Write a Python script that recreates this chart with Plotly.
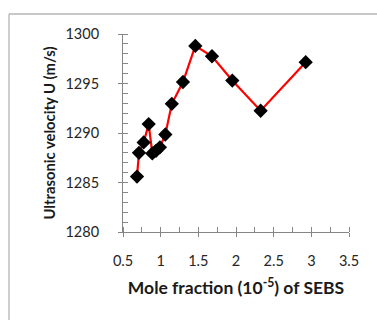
import plotly.graph_objects as go

# Ultrasonic velocity of SEBS solutions vs. mole fraction
mole_fraction = [0.686, 0.712, 0.774, 0.841, 0.889, 0.938, 0.99, 1.062,
                 1.148, 1.296, 1.46, 1.681, 1.951, 2.327, 2.925]
velocity = [1285.6, 1288.0, 1289.05, 1290.9, 1287.94, 1288.2, 1288.55,
            1289.85, 1292.95, 1295.15, 1298.8, 1297.75, 1295.3, 1292.25, 1297.15]

x_range = [0.5, 3.5]
y_range = [1280, 1300]

axis_grey = "#868686"
font_family = "Lato, 'Open Sans', sans-serif"

fig = go.Figure()
fig.add_trace(go.Scatter(
    x=mole_fraction, y=velocity, mode="lines+markers",
    line=dict(color="#ff0000", width=2.2),
    marker=dict(symbol="diamond", size=11, color="#000000"),
    showlegend=False, hoverinfo="x+y",
))
# invisible trace carrying the inner half of the crossing ticks
fig.add_trace(go.Scatter(x=x_range, y=y_range, xaxis="x2", yaxis="y2",
                         mode="markers", marker=dict(opacity=0),
                         showlegend=False, hoverinfo="skip"))

common = dict(showline=True, linecolor=axis_grey, linewidth=1,
              showgrid=False, zeroline=False, ticks="outside",
              tickcolor=axis_grey, ticklen=4, tickwidth=1,
              tickfont=dict(family=font_family, size=14.5, color="#262626"))

# outer chart frame (left and top edges, in pixels from the plot area)
plot_w, plot_h = 226, 198
frame_x = -114 / plot_w
frame_top = 1 + (34 - 14) / plot_h

fig.update_layout(
    width=377, height=320,
    margin=dict(l=123, r=28, t=34, b=88),
    paper_bgcolor="white", plot_bgcolor="white",
    font=dict(family=font_family),
    xaxis=dict(range=x_range, dtick=0.5, tick0=0.5,
               ticklabelstandoff=12,
               minor=dict(dtick=0.25, ticks="inside", ticklen=5, tickcolor=axis_grey),
               title=dict(text="<b>Mole fraction (10<sup>-5</sup>) of SEBS</b>",
                          font=dict(family=font_family, size=17.5, color="#1a1a1a"),
                          standoff=13),
               **common),
    yaxis=dict(range=y_range, dtick=5, tick0=1280,
               ticklabelstandoff=16,
               minor=dict(dtick=1, ticks="inside", ticklen=5, tickcolor=axis_grey),
               title=dict(text="<b>Ultrasonic velocity U (m/s)</b>",
                          font=dict(family=font_family, size=14.8, color="#1a1a1a"),
                          standoff=6),
               **common),
    xaxis2=dict(range=x_range, dtick=0.5, tick0=0.5, overlaying="x",
                showticklabels=False, ticks="inside", ticklen=4,
                tickcolor=axis_grey, showgrid=False, zeroline=False,
                showline=False),
    yaxis2=dict(range=y_range, dtick=5, tick0=1280, overlaying="y",
                showticklabels=False, ticks="inside", ticklen=4,
                tickcolor=axis_grey, showgrid=False, zeroline=False,
                showline=False),
    shapes=[
        dict(type="line", xref="paper", yref="paper",
             x0=frame_x, x1=1.2, y0=frame_top, y1=frame_top,
             line=dict(color="#b4b4b4", width=1.3)),
        dict(type="line", xref="paper", yref="paper",
             x0=frame_x, x1=frame_x, y0=-0.5, y1=frame_top,
             line=dict(color="#b4b4b4", width=1.3)),
    ],
)

fig.write_html("out.html")
